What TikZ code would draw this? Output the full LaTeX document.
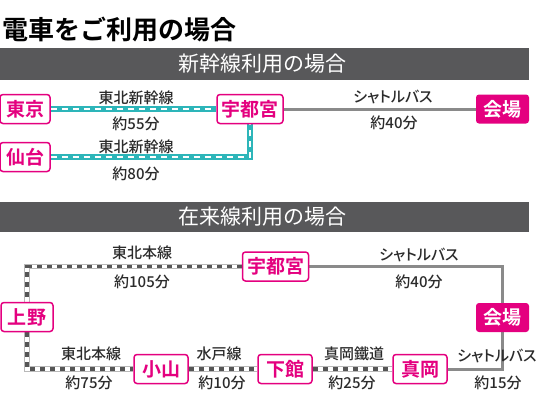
\documentclass[tikz,border=0pt]{standalone}
\usepackage{fontspec}
\setmainfont{Noto Sans CJK JP}[BoldFont={Noto Sans CJK JP Bold}]
\newfontfamily\labelfont{Noto Sans CJK JP Medium}[RawFeature={+palt}]
\usetikzlibrary{backgrounds}
\definecolor{mag}{HTML}{E4007F}
\definecolor{tealline}{HTML}{2DB5B9}
\definecolor{barcol}{HTML}{58585A}
\definecolor{txtcol}{HTML}{2B2B2B}
\definecolor{busline}{HTML}{8A8A8A}
\definecolor{raildark}{HTML}{555555}
\begin{document}
\begin{tikzpicture}[x=1pt,y=-1pt,
  station/.style={draw=mag, line width=1.5pt, fill=white, rounded corners=3pt, text=mag,
    font=\bfseries\fontsize{19}{19}\selectfont, minimum height=29pt, inner sep=0pt},
  venue/.style={fill=mag, rounded corners=3pt, text=white,
    font=\bfseries\fontsize{19}{19}\selectfont, minimum height=29pt, minimum width=53pt, inner sep=0pt},
  lbl/.style={text=txtcol, font=\labelfont\fontsize{15}{15}\selectfont, inner sep=0pt},
  barbox/.style={fill=barcol, draw=none},
  bartext/.style={text=white, font=\fontsize{21}{21}\selectfont, inner sep=0pt},
  shink/.style={line width=5.5pt, tealline, postaction={draw=white, line width=2.4pt, dash pattern=on 6pt off 5pt}},
  rail/.style={line width=5.5pt, gray!55, postaction={draw=white, line width=3.2pt}, postaction={draw=raildark, line width=3.2pt, dash pattern=on 5pt off 5pt}},
  bus/.style={line width=3pt, busline}
]
\useasboundingbox (0,0) rectangle (556,405);
% title
\node[anchor=west, inner sep=0pt, text=black, font=\bfseries\fontsize{26}{26}\selectfont] (title) at (2,29) {電車をご利用の場合};
% header bars
\fill[barbox] (0,48) rectangle (529,80);
\node[bartext] (hdrA) at (262,64) {新幹線利用の場合};
\fill[barbox] (0,202) rectangle (529,232);
\node[bartext] (hdrB) at (262,217) {在来線利用の場合};

% top section nodes
\node[station, minimum width=50pt] (tokyo) at (25,109) {東京};
\node[station, minimum width=50pt] (sendai) at (25,157) {仙台};
\node[station, minimum width=66pt] (utsuA) at (250,109) {宇都宮};
\node[venue] (venueA) at (502.5,109) {会場};
\node[lbl] (lA1) at (136,98) {東北新幹線};
\node[lbl] (lA2) at (136,124) {約55分};
\node[lbl] (lA3) at (136,147) {東北新幹線};
\node[lbl] (lA4) at (136,174) {約80分};
\node[lbl] (lA5) at (393,97) {シャトルバス};
\node[lbl] (lA6) at (394,123) {約40分};

% bottom section nodes
\node[station, minimum width=52pt] (ueno) at (27,317) {上野};
\node[station, minimum width=66pt] (utsuB) at (275.5,266.5) {宇都宮};
\node[station, minimum width=54pt] (oyama) at (161,369) {小山};
\node[station, minimum width=54pt] (shimodate) at (285,369) {下館};
\node[station, minimum width=54pt] (moka) at (420,369) {真岡};
\node[venue] (venueB) at (502.5,317.5) {会場};
\node[lbl] (lB1) at (142,253) {東北本線};
\node[lbl] (lB2) at (142,282) {約105分};
\node[lbl] (lB3) at (419,255) {シャトルバス};
\node[lbl] (lB4) at (419,282) {約40分};
\node[lbl] (lB5) at (91,354) {東北本線};
\node[lbl] (lB6) at (89,383) {約75分};
\node[lbl] (lB7) at (219,354) {水戸線};
\node[lbl] (lB8) at (222,383) {約10分};
\node[lbl] (lB9) at (354,354) {真岡鐵道};
\node[lbl] (lB10) at (352,383) {約25分};
\node[lbl] (lB11) at (497,356) {シャトルバス};
\node[lbl] (lB12) at (498,383) {約15分};

\begin{scope}[on background layer]
  \draw[shink] (tokyo.east) -- (utsuA.west);
  \draw[shink] (sendai.east) -| (utsuA.south);
  \draw[bus] (utsuA.east) -- (venueA.west);
  \draw[rail] (utsuB.west) -| (ueno.north);
  \draw[rail] (ueno.south) |- (oyama.west);
  \draw[rail] (oyama.east) -- (shimodate.west);
  \draw[rail] (shimodate.east) -- (moka.west);
  \draw[bus] (utsuB.east) -| (venueB.north);
  \draw[bus] (venueB.south) |- (moka.east);
\end{scope}
\end{tikzpicture}
\end{document}
